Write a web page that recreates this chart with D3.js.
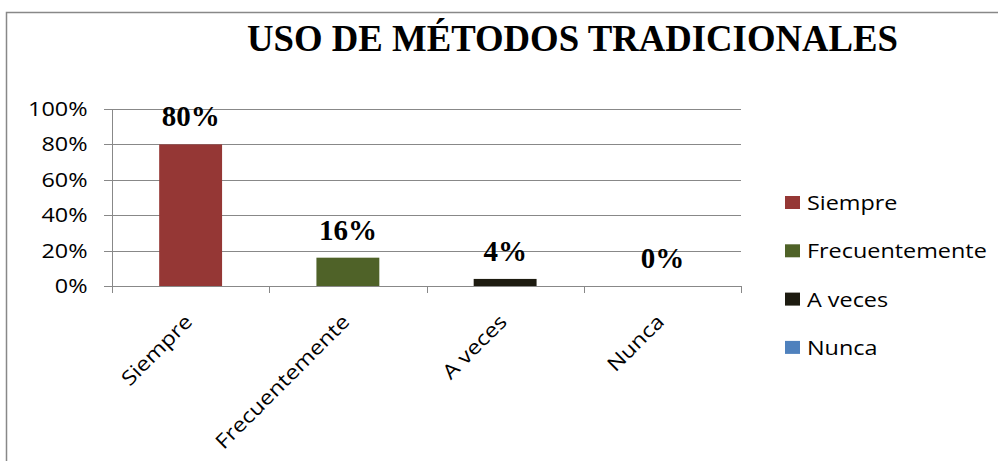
<!DOCTYPE html>
<html>
<head>
<meta charset="utf-8">
<script src="https://cdn.jsdelivr.net/npm/d3@7"></script>
<style>
  body { margin: 0; background: #fff; }
  .title { font-family: "Liberation Serif", "Times New Roman", serif; font-weight: bold; }
  .axis text { font-family: "Open Sans", "Noto Sans", sans-serif; font-size: 20px; fill: #000; }
  .axis path, .axis line { stroke: #888; }
  .legend text { font-family: "Open Sans", "Noto Sans", sans-serif; font-size: 20px; }
  .barlabel { font-family: "Liberation Serif", serif; font-weight: bold; font-size: 29px; }
</style>
</head>
<body>
<div id="chart"></div>
<script>
let categories = ["Siempre", "Frecuentemente", "A veces", "Nunca"];
let values = [80, 16, 4, 0];
let colors = ["#953735", "#4f6228", "#1d1b10", "#4f81bd"];
let yTicks = [0, 20, 40, 60, 80, 100];

let width = 998;
let height = 461;
let stretch = 1.17; // the reference text is drawn a little wide

let svg = d3.select("#chart")
    .append("svg")
    .attr("width", width)
    .attr("height", height);

// outer frame (only left and top visible)
svg.append("path")
    .attr("d", "M6.5,461 L6.5,12.5 L998,12.5")
    .attr("fill", "none")
    .attr("stroke", "#888")
    .attr("stroke-width", 1.5);

svg.append("text")
    .text("USO DE MÉTODOS TRADICIONALES")
    .attr("class", "title")
    .attr("x", 247)
    .attr("y", 51)
    .attr("font-size", 38)
    .attr("textLength", 651)
    .attr("lengthAdjust", "spacingAndGlyphs");

let x = d3.scaleBand()
    .domain(categories)
    .range([112, 741])
    .paddingInner(0)
    .paddingOuter(0);

let y = d3.scaleLinear()
    .domain([0, 100])
    .range([286, 109]);

// gridlines
svg.selectAll(".grid")
    .data(yTicks)
    .enter()
    .append("line")
    .attr("class", "grid")
    .attr("x1", 104)
    .attr("x2", 741)
    .attr("y1", d => Math.round(y(d)) + 0.5)
    .attr("y2", d => Math.round(y(d)) + 0.5)
    .attr("stroke", "#888");

let yAxis = d3.axisLeft(y)
    .tickValues(yTicks)
    .tickSize(0)
    .tickFormat(d => d + "%");

svg.append("g")
    .attr("class", "axis y-axis")
    .attr("transform", "translate(112.5,0)")
    .call(yAxis)
    .call(g => g.select(".domain").attr("d", "M0,109V293"))
    .call(g => g.selectAll(".tick text")
        .attr("x", null)
        .attr("transform", "translate(-25,0) scale(" + stretch + ",1)"));

// category tick marks on the x axis
let boundaries = categories.map(c => x(c)).concat([x.range()[1]]);
svg.selectAll(".xtick")
    .data(boundaries)
    .enter()
    .append("line")
    .attr("class", "xtick")
    .attr("x1", d => Math.round(d) + 0.5)
    .attr("x2", d => Math.round(d) + 0.5)
    .attr("y1", 286)
    .attr("y2", 293)
    .attr("stroke", "#888");

let xLabels = svg.append("g").attr("class", "axis x-axis");
xLabels.selectAll("text")
    .data(categories)
    .enter()
    .append("text")
    .attr("text-anchor", "end")
    .attr("transform", d => "translate(" + (x(d) + x.bandwidth() / 2 + 3) + ",323) rotate(-45) scale(" + stretch + ",1)")
    .text(d => d);

let barW = x.bandwidth() * 0.4;

svg.selectAll(".bar")
    .data(values)
    .enter()
    .append("rect")
    .attr("class", "bar")
    .attr("x", (d, i) => x(categories[i]) + (x.bandwidth() - barW) / 2)
    .attr("y", d => y(d))
    .attr("width", barW)
    .attr("height", d => y(0) - y(d))
    .attr("fill", (d, i) => colors[i]);

svg.selectAll(".barlabel")
    .data(values)
    .enter()
    .append("text")
    .attr("class", "barlabel")
    .attr("text-anchor", "middle")
    .attr("x", (d, i) => x(categories[i]) + x.bandwidth() / 2)
    .attr("y", d => y(d) - 18)
    .text(d => d + "%");

// legend
let legend = svg.append("g").attr("class", "legend");
let rows = legend.selectAll("g")
    .data(categories)
    .enter()
    .append("g")
    .attr("transform", (d, i) => "translate(785," + (203 + i * 48.3) + ")");

rows.append("rect")
    .attr("x", 0)
    .attr("y", -7)
    .attr("width", 15)
    .attr("height", 13)
    .attr("fill", (d, i) => colors[i]);

rows.append("text")
    .attr("transform", "translate(22,7) scale(" + stretch + ",1)")
    .text(d => d);
</script>
</body>
</html>
